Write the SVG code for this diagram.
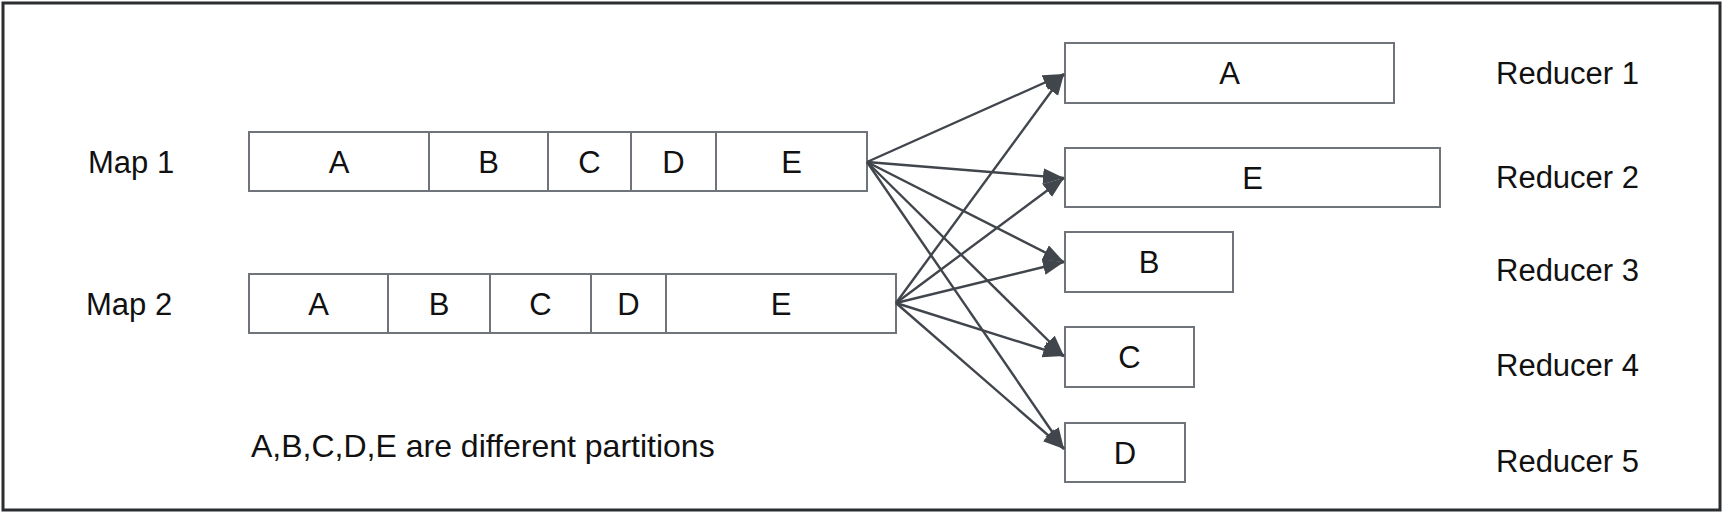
<svg xmlns="http://www.w3.org/2000/svg" width="1725" height="515" viewBox="0 0 1725 515">
<defs>
<style>
.frame{fill:#fff;stroke:#2b2d30;stroke-width:3}
.cell{fill:#fff;stroke:#6f737a;stroke-width:2}
.lbl{font-family:"Liberation Sans",Arial,sans-serif;font-size:31px;fill:#111}
.mid{text-anchor:middle}
.edge{stroke:#41454c;stroke-width:2.4;fill:none;marker-end:url(#ah)}
</style>
<marker id="ah" markerUnits="userSpaceOnUse" markerWidth="22" markerHeight="18" refX="21" refY="8" orient="auto">
<path d="M0,0 L21,8 L0,16 z" fill="#41454c"/>
</marker>
</defs>
<rect class="frame" x="3" y="3" width="1717" height="507"/>

<g id="map1">
<text class="lbl" x="88" y="173">Map 1</text>
<rect class="cell" x="249" y="132" width="618" height="59"/>
<line class="cell" x1="429" y1="132" x2="429" y2="191"/>
<line class="cell" x1="548" y1="132" x2="548" y2="191"/>
<line class="cell" x1="631" y1="132" x2="631" y2="191"/>
<line class="cell" x1="716" y1="132" x2="716" y2="191"/>
<text class="lbl mid" x="339" y="173">A</text>
<text class="lbl mid" x="488.5" y="173">B</text>
<text class="lbl mid" x="589.5" y="173">C</text>
<text class="lbl mid" x="673.5" y="173">D</text>
<text class="lbl mid" x="791.5" y="173">E</text>
</g>

<g id="map2">
<text class="lbl" x="86" y="315">Map 2</text>
<rect class="cell" x="249" y="274" width="647" height="59"/>
<line class="cell" x1="388" y1="274" x2="388" y2="333"/>
<line class="cell" x1="490" y1="274" x2="490" y2="333"/>
<line class="cell" x1="591" y1="274" x2="591" y2="333"/>
<line class="cell" x1="666" y1="274" x2="666" y2="333"/>
<text class="lbl mid" x="318.5" y="315">A</text>
<text class="lbl mid" x="439" y="315">B</text>
<text class="lbl mid" x="540.5" y="315">C</text>
<text class="lbl mid" x="628.5" y="315">D</text>
<text class="lbl mid" x="781" y="315">E</text>
</g>

<g id="reducer1">
<rect class="cell" x="1065" y="43" width="329" height="60"/>
<text class="lbl mid" x="1229.5" y="84">A</text>
<text class="lbl" x="1496" y="84">Reducer 1</text>
</g>
<g id="reducer2">
<rect class="cell" x="1065" y="148" width="375" height="59"/>
<text class="lbl mid" x="1252.5" y="189">E</text>
<text class="lbl" x="1496" y="188">Reducer 2</text>
</g>
<g id="reducer3">
<rect class="cell" x="1065" y="232" width="168" height="60"/>
<text class="lbl mid" x="1149" y="273">B</text>
<text class="lbl" x="1496" y="281">Reducer 3</text>
</g>
<g id="reducer4">
<rect class="cell" x="1065" y="327" width="129" height="60"/>
<text class="lbl mid" x="1129.5" y="368">C</text>
<text class="lbl" x="1496" y="376">Reducer 4</text>
</g>
<g id="reducer5">
<rect class="cell" x="1065" y="423" width="120" height="59"/>
<text class="lbl mid" x="1125" y="464">D</text>
<text class="lbl" x="1496" y="472">Reducer 5</text>
</g>

<g id="caption">
<text class="lbl" x="251" y="457" style="font-size:32px">A,B,C,D,E are different partitions</text>
</g>

<g id="connectors">
<line class="edge" x1="867" y1="162" x2="1064" y2="74"/>
<line class="edge" x1="867" y1="162" x2="1064" y2="178"/>
<line class="edge" x1="867" y1="162" x2="1064" y2="262"/>
<line class="edge" x1="867" y1="162" x2="1064" y2="356"/>
<line class="edge" x1="867" y1="162" x2="1064" y2="449"/>
<line class="edge" x1="896" y1="303" x2="1064" y2="74"/>
<line class="edge" x1="896" y1="303" x2="1064" y2="178"/>
<line class="edge" x1="896" y1="303" x2="1064" y2="262"/>
<line class="edge" x1="896" y1="303" x2="1064" y2="356"/>
<line class="edge" x1="896" y1="303" x2="1064" y2="449"/>
</g>
</svg>
